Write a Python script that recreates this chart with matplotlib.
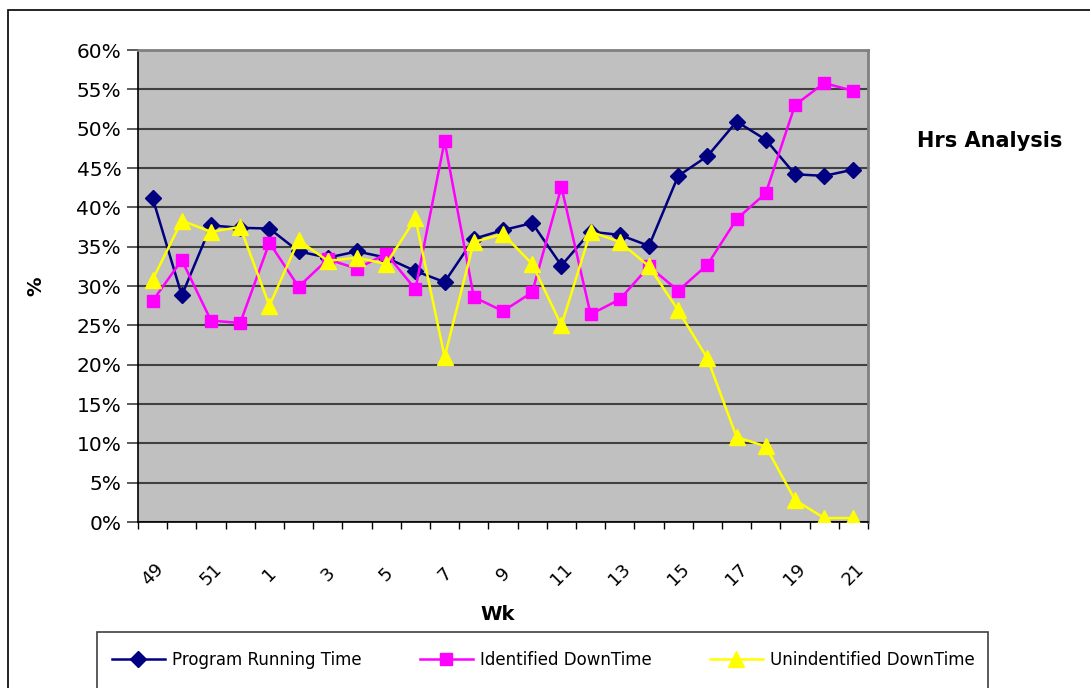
import numpy as np
import matplotlib
matplotlib.use("Agg")
import matplotlib.pyplot as plt
from matplotlib.patches import Rectangle
from matplotlib.ticker import FixedLocator, PercentFormatter

# week numbers (year wraps after 52)
weeks = [49, 50, 51, 52] + list(range(1, 22))

program_running = [41.2, 28.8, 37.7, 37.4, 37.3, 34.4, 33.6, 34.4, 33.6, 31.9,
                   30.5, 36.0, 37.1, 38.0, 32.6, 36.9, 36.5, 35.1, 44.0, 46.5,
                   50.9, 48.6, 44.2, 44.0, 44.8]
identified_down = [28.1, 33.3, 25.6, 25.3, 35.5, 29.9, 33.4, 32.2, 34.1, 29.6,
                   48.4, 28.6, 26.8, 29.2, 42.6, 26.4, 28.3, 32.5, 29.4, 32.7,
                   38.5, 41.8, 53.0, 55.8, 54.8]
unidentified_down = [30.8, 38.3, 36.9, 37.5, 27.5, 35.8, 33.2, 33.6, 32.8, 38.6,
                     21.0, 35.6, 36.6, 32.8, 25.0, 36.9, 35.6, 32.5, 26.9, 20.8,
                     10.8, 9.6, 2.8, 0.5, 0.5]

series = [
    ("Program Running Time", program_running, "#000080", "D", 8),
    ("Identified DownTime", identified_down, "#FF00FF", "s", 9),
    ("Unindentified DownTime", unidentified_down, "#FFFF00", "^", 11),
]

fig = plt.figure(figsize=(10.9, 6.88), dpi=100)
fig.patch.set_facecolor("white")

# outer chart border (runs off the right and bottom edge)
fig.patches.append(Rectangle((8 / 1090, -0.05), 1.1, 1 - 10 / 688 + 0.05,
                             transform=fig.transFigure, fill=False,
                             edgecolor="black", linewidth=1.2))

ax = fig.add_axes([138 / 1090, 1 - 522 / 688, 730 / 1090, 472 / 688])
ax.set_facecolor("#C0C0C0")

x = np.arange(len(weeks))
for name, vals, color, marker, ms in series:
    ax.plot(x, vals, color=color, linewidth=1.8, marker=marker,
            markersize=ms, markeredgecolor=color, label=name, zorder=3)

ax.set_xlim(-0.5, len(weeks) - 0.5)
ax.set_ylim(0, 60)
ax.set_yticks(np.arange(0, 61, 5))
ax.yaxis.set_major_formatter(PercentFormatter(decimals=0))
ax.grid(axis="y", color="#404040", linewidth=1.5)
ax.set_axisbelow(True)

# category labels every other week, ticks between categories
ax.set_xticks(x[::2])
ax.set_xticklabels([str(w) for w in weeks[::2]], rotation=45,
                   ha="center", va="center", fontsize=13)
ax.xaxis.set_minor_locator(FixedLocator(np.arange(-0.5, len(weeks), 1.0)))
ax.tick_params(axis="x", which="major", length=0, pad=38)
ax.tick_params(axis="x", which="minor", length=5, width=1, color="black")
ax.tick_params(axis="y", length=8, width=1.2, color="#404040",
               labelsize=14.5, pad=4)

for side in ["top", "right"]:
    ax.spines[side].set_color("#808080")
    ax.spines[side].set_linewidth(2)
for side in ["left", "bottom"]:
    ax.spines[side].set_color("black")
    ax.spines[side].set_linewidth(1.2)

fig.text(498 / 1090, 1 - 615 / 688, "Wk", fontsize=14, fontweight="bold",
         ha="center", va="center")
fig.text(36 / 1090, 1 - 286 / 688, "%", fontsize=14, fontweight="bold",
         ha="center", va="center", rotation=90)
fig.text(990 / 1090, 1 - 141 / 688, "Hrs Analysis", fontsize=15,
         fontweight="bold", ha="center", va="center")

# legend box
fig.patches.append(Rectangle((97 / 1090, -0.05), 891 / 1090,
                             1 - 632 / 688 + 0.05, transform=fig.transFigure,
                             facecolor="white", edgecolor="#404040",
                             linewidth=1.2))
fig.legend(loc="center", bbox_to_anchor=(543 / 1090, 1 - 660 / 688),
           ncol=3, frameon=False, fontsize=12, handlelength=3.2,
           columnspacing=3.5, handletextpad=0.4)

fig.savefig("out.png", dpi=100)
